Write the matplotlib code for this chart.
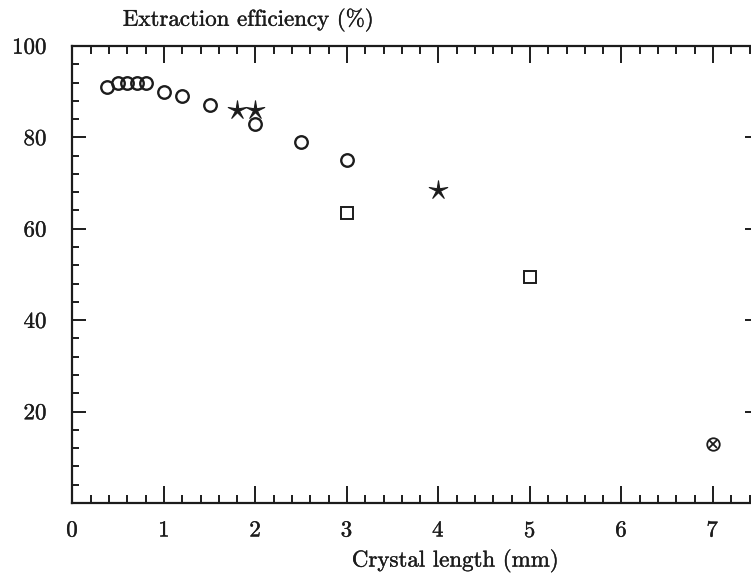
import numpy as np
import matplotlib.pyplot as plt
from matplotlib.path import Path
from matplotlib.ticker import MultipleLocator
import matplotlib.patheffects as pe

plt.rcParams['font.family'] = 'serif'
plt.rcParams['font.serif'] = ['cmr10', 'DejaVu Serif']
plt.rcParams['axes.formatter.use_mathtext'] = True

# circles
circ_x = [0.38, 0.5, 0.6, 0.7, 0.8, 1.0, 1.2, 1.5, 2.0, 2.5, 3.0]
circ_y = [91, 92, 92, 92, 92, 90, 89, 87, 83, 79, 75]
# stars
star_x = [1.8, 2.0, 4.0]
star_y = [86, 86, 68.5]
# squares
sq_x = [3.0, 5.0]
sq_y = [63.5, 49.5]
# circled cross
ox_x = [7.0]
ox_y = [13]

INK = '#1c1c1c'
stroke = [pe.withStroke(linewidth=0.25, foreground=INK)]

# thin-armed five pointed star marker
ang = np.pi / 2 + np.arange(10) * np.pi / 5
rad = np.where(np.arange(10) % 2 == 0, 1.0, 0.22)
verts = np.column_stack([rad * np.cos(ang), rad * np.sin(ang)])
verts = np.vstack([verts, verts[:1]])
thin_star = Path(verts, closed=True)

fig = plt.figure(figsize=(7.51, 5.79), dpi=100)
ax = fig.add_axes([0.0965, 0.1313, 0.9138, 0.7893])

mk = dict(linestyle='none', color=INK)
ax.plot(circ_x, circ_y, marker='o', ms=9, mfc='none', mew=1.7, **mk)
ax.plot(star_x, star_y, marker=thin_star, ms=14, mew=0.8, **mk)
ax.plot(sq_x, sq_y, marker='s', ms=9, mfc='none', mew=1.4, **mk)
ax.plot(ox_x, ox_y, marker='o', ms=9, mfc='none', mew=1.3, **mk)
ax.plot(ox_x, ox_y, marker='x', ms=5.5, mew=1.3, **mk)

ax.set_xlim(0, 7.5)
ax.set_ylim(0, 100)
ax.xaxis.set_major_locator(MultipleLocator(1))
ax.xaxis.set_minor_locator(MultipleLocator(0.2))
ax.yaxis.set_major_locator(MultipleLocator(20))
ax.yaxis.set_minor_locator(MultipleLocator(4))
ax.set_yticks([20, 40, 60, 80, 100])

for s in ax.spines.values():
    s.set_linewidth(1.6)
    s.set_color(INK)

ax.tick_params(axis='both', which='both', direction='in', top=True, right=True,
               colors=INK, labelsize=16.5, width=1.4)
ax.tick_params(axis='x', which='major', length=12, pad=13)
ax.tick_params(axis='x', which='minor', length=6)
ax.tick_params(axis='y', which='major', length=10, pad=18)
ax.tick_params(axis='y', which='minor', length=5)
for lab in ax.get_xticklabels() + ax.get_yticklabels():
    lab.set_path_effects(stroke)

fig.text(0.606, 0.031, 'Crystal length (mm)', fontsize=16.5,
         ha='center', va='center', color=INK, path_effects=stroke)
fig.text(0.33, 0.965, 'Extraction efficiency (%)', fontsize=16.5,
         ha='center', va='center', color=INK, path_effects=stroke)

fig.savefig('out.png', dpi=100)
